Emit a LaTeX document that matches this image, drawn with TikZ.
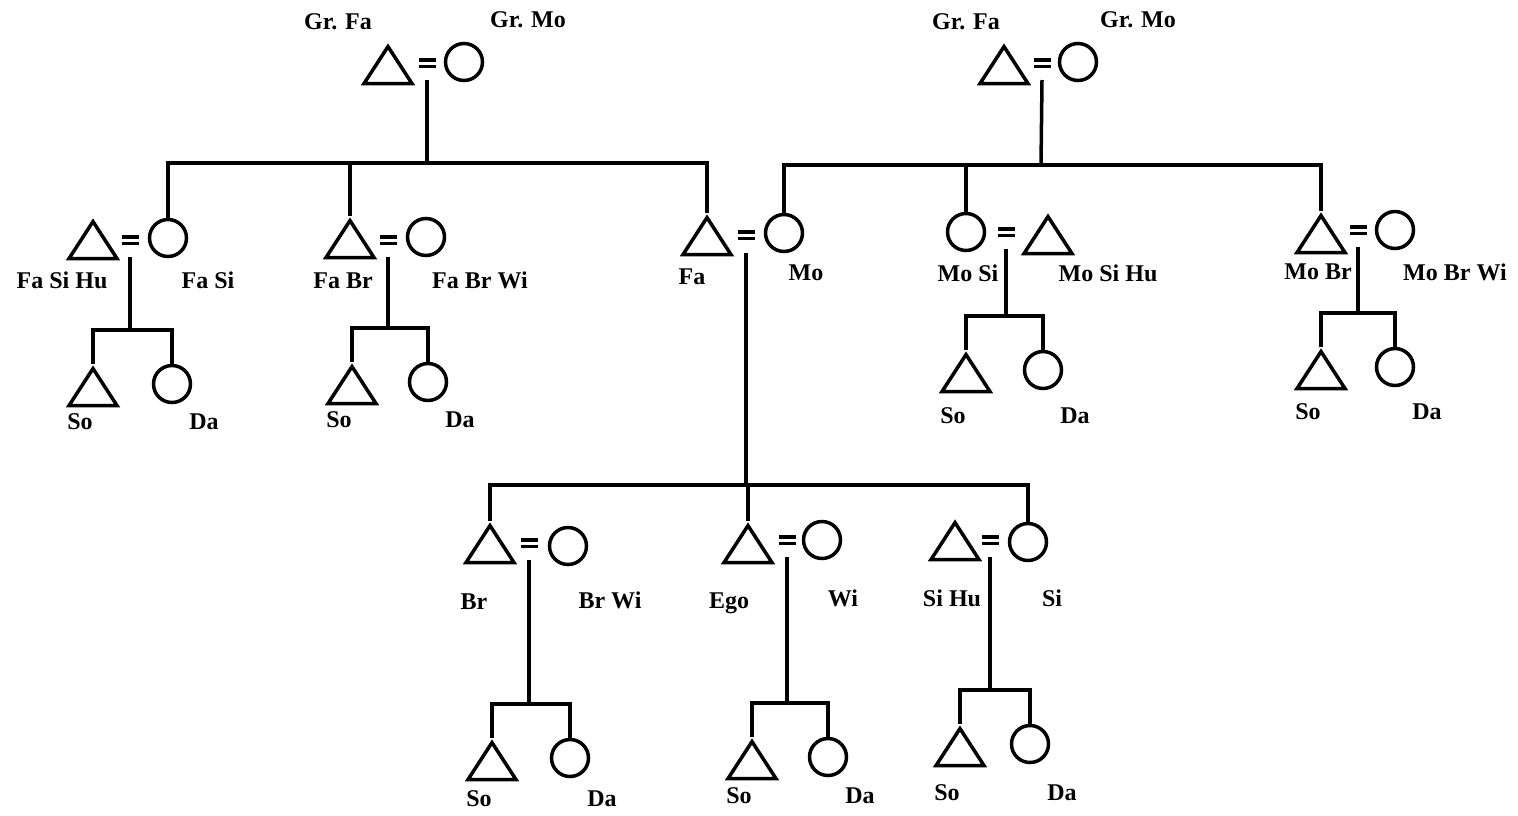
\documentclass[tikz,border=0pt]{standalone}
\usepackage{fontspec}
\setmainfont{Liberation Serif}
\usetikzlibrary{shapes.geometric}

\newcommand{\marsign}{\vbox{\hrule width 17pt height 3.5pt\vskip 3pt\hrule width 17pt height 3.5pt}}

\begin{document}
\begin{tikzpicture}[x=1pt, y=-1pt, line width=3.5pt,
    male/.style={draw, isosceles triangle, shape border rotate=90,
        isosceles triangle stretches, minimum width=48pt, minimum height=37pt,
        inner sep=0pt, anchor=apex},
    female/.style={draw, circle, minimum size=37pt, inner sep=0pt},
    marry/.style={inner sep=0pt},
    kin/.style={font=\bfseries\fontsize{24}{26}\selectfont, inner sep=0pt}]
    \useasboundingbox (0,0) rectangle (1518,815);

    % Grandparents, father's side
    \node[male] (pgfa) at (388,42) {};
    \node[marry] (pmar) at (427,63) {\marsign};
    \node[female] (pgmo) at (464,62) {};
    \node[kin] (lpgfa) at (338,22) {Gr. Fa};
    \node[kin] (lpgmo) at (528,20) {Gr. Mo};

    % Grandparents, mother's side
    \node[male] (mgfa) at (1004,42) {};
    \node[marry] (mmar) at (1042,63) {\marsign};
    \node[female] (mgmo) at (1078,62) {};
    \node[kin] (lmgfa) at (966,22) {Gr. Fa};
    \node[kin] (lmgmo) at (1138,20) {Gr. Mo};

    % Parents' generation
    \node[male] (fsh) at (93,217) {};
    \node[marry] (fsmar) at (130,240) {\marsign};
    \node[female] (fsi) at (168,238) {};
    \node[kin] (lfsh) at (62,280) {Fa Si Hu};
    \node[kin] (lfsi) at (208,280) {Fa Si};

    \node[male] (fbr) at (350,216) {};
    \node[marry] (fbmar) at (388,240) {\marsign};
    \node[female] (fbw) at (426,237) {};
    \node[kin] (lfbr) at (343,281) {Fa Br};
    \node[kin] (lfbw) at (480,280) {Fa Br Wi};

    \node[male] (fa) at (707,213) {};
    \node[marry] (fmar) at (746,235) {\marsign};
    \node[female] (mo) at (784,233) {};
    \node[kin] (lfa) at (692,277) {Fa};
    \node[kin] (lmo) at (806,273) {Mo};

    \node[female] (msi) at (966,232) {};
    \node[marry] (msmar) at (1006,232) {\marsign};
    \node[male] (msh) at (1048,212) {};
    \node[kin] (lmsi) at (968,273) {Mo Si};
    \node[kin] (lmsh) at (1108,273) {Mo Si Hu};

    \node[male] (mbr) at (1321,211) {};
    \node[marry] (mbmar) at (1358,230) {\marsign};
    \node[female] (mbw) at (1395,230) {};
    \node[kin] (lmbr) at (1318,272) {Mo Br};
    \node[kin] (lmbw) at (1455,272) {Mo Br Wi};

    % Ego's generation
    \node[male] (br) at (490,521) {};
    \node[marry] (bsmar) at (529,543) {\marsign};
    \node[female] (brw) at (568,546) {};
    \node[kin] (lbr) at (474,602) {Br};
    \node[kin] (lbrw) at (610,600) {Br Wi};

    \node[male] (ego) at (748,521) {};
    \node[marry] (esmar) at (787,540) {\marsign};
    \node[female] (wi) at (822,540) {};
    \node[kin] (lego) at (729,603) {Ego};
    \node[kin] (lwi) at (843,598) {Wi};

    \node[male] (sih) at (955,518) {};
    \node[marry] (ssmar) at (990,540) {\marsign};
    \node[female] (si) at (1028,542) {};
    \node[kin] (lsih) at (952,598) {Si Hu};
    \node[kin] (lsi) at (1052,598) {Si};

    % Descent lines
    \coordinate (pbar) at (427,163);
    \coordinate (mbar) at (1041,165);
    \coordinate (sbar) at (746,485);
    \draw (pmar) ++(0,17) -- (pbar);
    \draw (fsi.north) |- (pbar) -| (fa.apex);
    \draw (fbr.apex) -- (fbr.apex |- pbar);
    \draw (mmar) ++(0,17) -- (mbar);
    \draw (mo.north) |- (mbar) -| (mbr.apex);
    \draw (msi.north) -- (msi.north |- mbar);
    \draw (fmar) ++(0,18) -- (sbar);
    \draw (br.apex) |- (sbar) -| (si.north);
    \draw (ego.apex) -- (ego.apex |- sbar);

    % Sons and daughters
    \foreach \n/\mx/\ky/\sx/\dx/\ly in {fs/130/330/93/172/422, fb/388/328/352/428/420,
        ms/1006/316/966/1043/416, mb/1358/313/1321/1395/412,
        bs/529/704/492/570/799, es/787/703/752/828/796, ss/990/690/960/1030/793} {
        \coordinate (\n-kb) at (\mx,\ky);
        \node[male] (\n-so) at (\sx,\ky+34) {};
        \node[female] (\n-da) at (\dx,\ky+54) {};
        \draw (\n mar) ++(0,17) -- (\n-kb);
        \draw (\n-so.apex) |- (\n-kb) -| (\n-da.north);
        \node[kin] (\n-lso) at (\sx-13,\ly) {So};
        \node[kin] (\n-lda) at (\dx+32,\ly) {Da};
    }

\end{tikzpicture}
\end{document}
